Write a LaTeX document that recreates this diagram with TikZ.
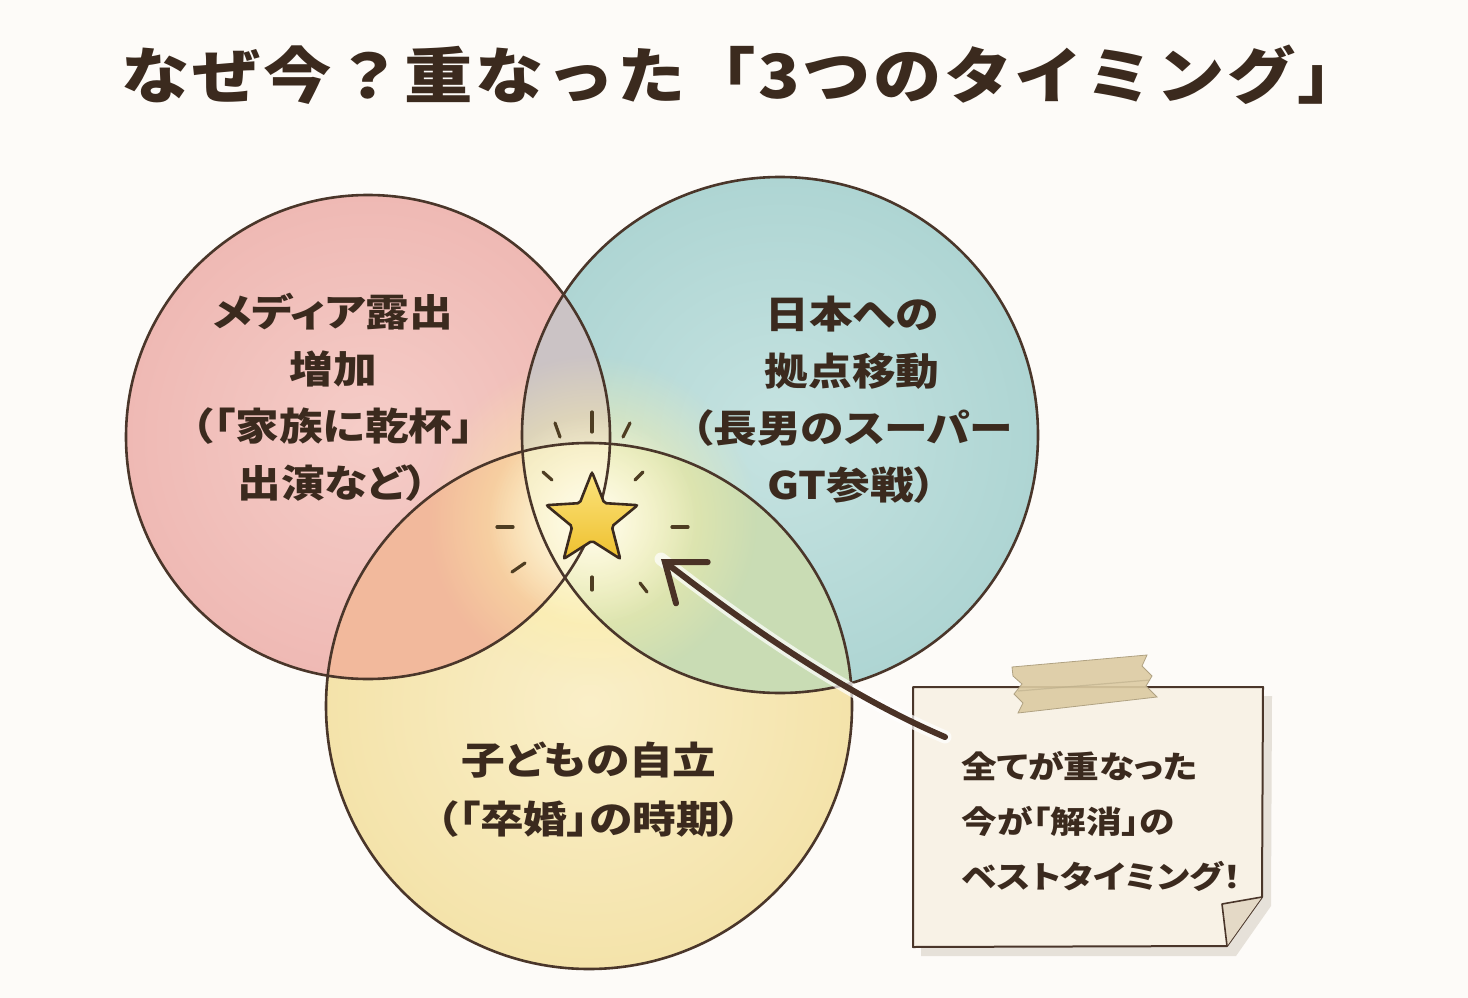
\documentclass[tikz,border=0pt]{standalone}
\usepackage{fontspec}
\usetikzlibrary{shapes.geometric,arrows.meta,fadings}
\newfontfamily\jpfont[FakeStretch=1.15,RawFeature=+palt]{Noto Sans CJK JP}
\newfontfamily\jptitle[FakeStretch=1.12,LetterSpace=4]{Noto Sans CJK JP}

\definecolor{paper}{HTML}{FDFBF8}
\definecolor{ink}{HTML}{3B2A1E}
\definecolor{edge}{HTML}{4A362A}
\definecolor{redin}{HTML}{F5CDC8}
\definecolor{redout}{HTML}{EFB9B4}
\definecolor{bluein}{HTML}{C6E3E1}
\definecolor{blueout}{HTML}{AED5D3}
\definecolor{yelin}{HTML}{FAEFC8}
\definecolor{yelout}{HTML}{F4E3AA}
\definecolor{redblue}{HTML}{CBC3C5}
\definecolor{redyel}{HTML}{F2B99C}
\definecolor{blueyel}{HTML}{C9DCB4}
\definecolor{mid}{HTML}{E9E1CC}
\definecolor{glowc}{HTML}{FFF3A8}
\definecolor{startop}{HTML}{FCE47E}
\definecolor{starbot}{HTML}{EEC02E}
\definecolor{raycol}{HTML}{4E3D22}
\definecolor{arrowc}{HTML}{4A3226}
\definecolor{notec}{HTML}{F8F2E6}
\definecolor{shadowc}{HTML}{E6E1D9}
\definecolor{foldc}{HTML}{E4D9C6}
\definecolor{tapec}{HTML}{DCCBA2}

\tikzfading[name=glowfade, inner color=transparent!0, outer color=transparent!100]

\tikzset{
  ring/.style={draw=edge, line width=2.6pt},
  circtext/.style={font=\jpfont\bfseries\fontsize{38}{57}\selectfont, text=ink, align=center},
  notetext/.style={font=\jpfont\bfseries\fontsize{31}{55}\selectfont, text=ink, align=left},
  ray/.style={draw=raycol, line width=3.2pt, line cap=round},
}

\begin{document}
\begin{tikzpicture}[x=1pt,y=-1pt]
  \fill[paper] (0,0) rectangle (1468,998);
  \useasboundingbox (0,0) rectangle (1468,998);

  \node[font=\jptitle\bfseries\fontsize{61}{64}\selectfont, text=ink] (title) at (744,75) {なぜ今？重なった「3つのタイミング」};

  \coordinate (R) at (368,437);
  \coordinate (B) at (780,435);
  \coordinate (Y) at (589,706);

  \fill[inner color=redin, outer color=redout] (R) circle (242);
  \fill[inner color=bluein, outer color=blueout] (B) circle (258);
  \fill[inner color=yelin, outer color=yelout] (Y) circle (263);
  \begin{scope}
    \clip (R) circle (242);
    \fill[redblue] (B) circle (258);
    \fill[redyel] (Y) circle (263);
  \end{scope}
  \begin{scope}
    \clip (B) circle (258);
    \fill[blueyel] (Y) circle (263);
  \end{scope}
  \begin{scope}
    \clip (R) circle (242);
    \clip (B) circle (258);
    \fill[mid] (Y) circle (263);
  \end{scope}

  \fill[glowc, path fading=glowfade] (592,520) circle (165);
  \fill[white, path fading=glowfade, opacity=0.85] (592,520) circle (105);

  \draw[ring] (R) circle (242);
  \draw[ring] (B) circle (258);
  \draw[ring] (Y) circle (263);

  \node[circtext] (media) at (333,397) {メディア露出\\増加\\（「家族に乾杯」\\出演など）};
  \node[circtext] (japan) at (852,400) {日本への\\拠点移動\\（長男のスーパー\\GT参戦）};
  \node[circtext, font=\jpfont\bfseries\fontsize{38}{59}\selectfont] (child) at (589,790) {子どもの自立\\（「卒婚」の時期）};

  \foreach \ax/\ay/\bx/\by in {592/412/592/432, 555/423/560/437, 630/423/623/437,
                     543/472/552/480, 643/472/635/480, 497/527/513/527,
                     672/527/688/527, 512/572/525/563, 592/577/592/590,
                     640/583/647/592}
    \draw[ray] (\ax,\ay) -- (\bx,\by);

  \node[star, star points=5, star point ratio=2.3, minimum size=96pt, inner sep=0pt,
        rounded corners=2pt, draw=ink, line width=2.6pt, top color=startop, bottom color=starbot]
        (star) at (592,520) {};

  \fill[shadowc] (921,696) -- (1272,696) -- (1271,906) -- (1236,956) -- (921,956) -- cycle;
  \draw[fill=notec, draw=edge, line width=2pt, line join=round]
    (913,687) -- (1263,687) -- (1262,897) -- (1227,946) -- (913,947) -- cycle;
  \draw[fill=foldc, draw=edge, line width=1.6pt, line join=round]
    (1262,897) -- (1222,904) -- (1227,946);
  \fill[tapec, opacity=0.9] (1012,667) -- (1147,655) -- (1142,666) -- (1152,676) -- (1146,686)
    -- (1157,697) -- (1018,713) -- (1023,703) -- (1014,694) -- (1022,684) -- (1013,676) -- cycle;
  \draw[tapec!80!black, line width=0.8pt] (1012,667) -- (1147,655) -- (1142,666) -- (1152,676)
    -- (1146,686) -- (1157,697) -- (1018,713) -- (1023,703) -- (1014,694) -- (1022,684) -- (1013,676) -- cycle;
  \draw[tapec!85!black, line width=1.2pt, opacity=0.6] (1018,691) -- (1150,680);

  \node[notetext, anchor=west] (note) at (958,821) {全てが重なった\\今が「解消」の\\ベストタイミング！};

  \coordinate (tail) at (945,737);
  \coordinate (tip) at (661,559);
  \draw[white, line width=13pt, line cap=round, opacity=0.7]
    (tail) .. controls (835,690) and (730,612) .. (tip);
  \draw[arrowc, line width=6pt, line cap=round,
        -{Straight Barb[length=34pt, width=52pt, line cap=round]}]
    (tail) .. controls (835,690) and (730,612) .. (tip);
\end{tikzpicture}
\end{document}
